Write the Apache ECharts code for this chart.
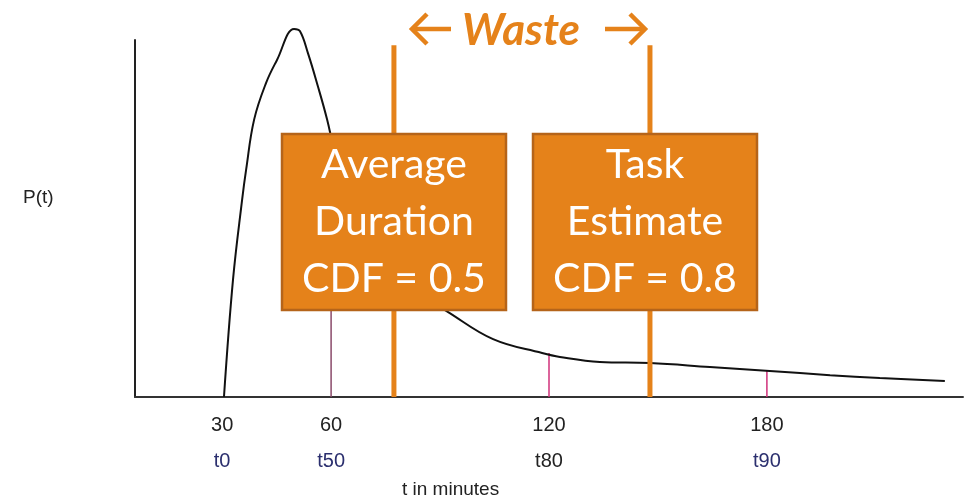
<!DOCTYPE html>
<html>
<head>
<meta charset="utf-8">
<script src="https://cdn.jsdelivr.net/npm/echarts@6/dist/echarts.min.js"></script>
<style>
  html, body { margin: 0; padding: 0; background: #fff; }
  #chart { width: 977px; height: 502px; }
</style>
</head>
<body>
<div id="chart"></div>
<script>
// duration distribution curve (t in minutes, P(t) in arbitrary units)
var curveT = [30.5, 33, 35.5, 36.6, 38.8, 42.1, 45.1, 49.8, 51.4, 53.6, 56.4, 58.9, 63.8, 72.1, 81.7, 91.9, 104.6, 118.1, 123, 134, 147.8, 164.3, 180.8, 197.4, 211.1, 229];
var curveP = [0, 33, 55.3, 63.7, 77.7, 88, 94.4, 103.1, 102.5, 96.4, 86.9, 77.7, 57, 41, 30.5, 24, 16.2, 12.3, 11.2, 9.8, 9.5, 8.4, 7.3, 6.1, 5.3, 4.5];

// percentile markers
var tickValues = [30, 60, 120, 180];
var tickNames = ['t0', 't50', 't80', 't90'];
var markerT = [60, 120, 180];
var markerP = [72, 12.3, 7.3];

// average duration and task estimate lines
var wasteT = [77.3, 147.8];
var wasteTop = 98.5;

var orange = '#e5821a';

var chart = echarts.init(document.getElementById('chart'));

var series = [];
series.push({
  type: 'line',
  data: curveT.map(function (t, i) { return [t, curveP[i]]; }),
  smooth: 0.4,
  clip: false,
  symbol: 'none',
  lineStyle: { color: '#111', width: 2 },
  z: 3
});
markerT.forEach(function (t, i) {
  series.push({
    type: 'line',
    data: [[t, 0], [t, markerP[i]]],
    symbol: 'none',
    lineStyle: { color: i === 0 ? '#8a4a6a' : '#d0307a', width: 1.5 },
    z: 2
  });
});
wasteT.forEach(function (t) {
  series.push({
    type: 'line',
    data: [[t, 0], [t, wasteTop]],
    symbol: 'none',
    lineStyle: { color: orange, width: 5 },
    z: 4
  });
});

function box(cx, lines) {
  return [
    {
      type: 'rect',
      z: 100,
      shape: { x: cx - 112, y: 134, width: 224, height: 176 },
      style: { fill: orange, stroke: '#b5641a', lineWidth: 2.5 }
    },
    {
      type: 'text',
      z: 101,
      x: cx,
      y: 222,
      style: {
        text: lines.join('\n'),
        fill: '#fff',
        font: '41px Lato',
        lineHeight: 57,
        align: 'center',
        verticalAlign: 'middle'
      }
    }
  ];
}

function arrow(x0, x1, dir) {
  var tip = dir < 0 ? x0 : x1;
  var back = tip - dir * 15;
  return [
    {
      type: 'polyline', z: 100,
      shape: { points: [[x0, 29], [x1, 29]] },
      style: { stroke: orange, lineWidth: 4.5, fill: null }
    },
    {
      type: 'polyline', z: 100,
      shape: { points: [[back, 14], [tip, 29], [back, 44]] },
      style: { stroke: orange, lineWidth: 4.5, fill: null, lineJoin: 'miter' }
    }
  ];
}

var graphics = [
  {
    type: 'text', left: 23, top: 188,
    style: { text: 'P(t)', font: '19px Liberation Sans', fill: '#222' }
  },
  {
    type: 'text', left: 402, top: 480,
    style: { text: 't in minutes', font: '19px Liberation Sans', fill: '#222' }
  },
  {
    type: 'text', x: 521, y: 31, z: 100,
    style: { text: 'Waste', font: 'italic bold 44px Lato', fill: orange, align: 'center', verticalAlign: 'middle' }
  }
].concat(arrow(412, 451, -1), arrow(605, 645, 1),
  box(394, ['Average', 'Duration', 'CDF = 0.5']),
  box(645, ['Task', 'Estimate', 'CDF = 0.8']));

var option = {
  animation: false,
  grid: { left: 135, right: 14, top: 40, bottom: 105 },
  xAxis: {
    type: 'value',
    min: 6,
    max: 234,
    splitLine: { show: false },
    axisLine: { onZero: false, lineStyle: { color: '#333', width: 2 } },
    axisTick: { show: false },
    axisLabel: {
      customValues: tickValues,
      margin: 10,
      formatter: function (v) {
        var i = tickValues.indexOf(v);
        return '{a|' + v + '}\n{' + (i === 2 ? 'c' : 'b') + '|' + tickNames[i] + '}';
      },
      rich: {
        a: { fontSize: 20, color: '#222', lineHeight: 36, fontFamily: 'Liberation Sans' },
        b: { fontSize: 20, color: '#2b2f6e', lineHeight: 36, fontFamily: 'Liberation Sans' },
        c: { fontSize: 20, color: '#222', lineHeight: 36, fontFamily: 'Liberation Sans' }
      }
    }
  },
  yAxis: {
    type: 'value',
    min: 0,
    max: 100,
    splitLine: { show: false },
    axisLine: { show: true, lineStyle: { color: '#222', width: 2 } },
    axisTick: { show: false },
    axisLabel: { show: false }
  },
  series: series,
  graphic: graphics
};

chart.setOption(option);
</script>
</body>
</html>
